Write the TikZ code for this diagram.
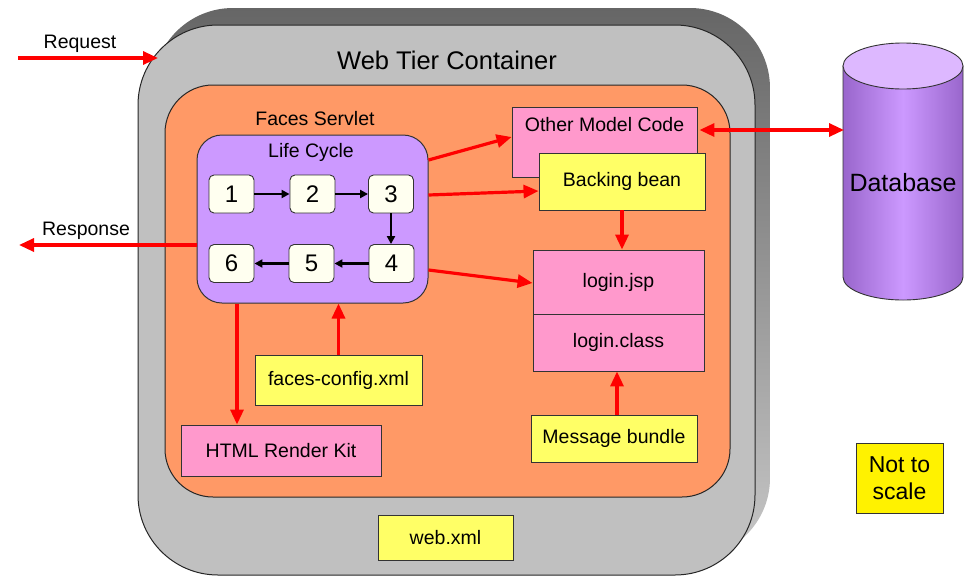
\documentclass[tikz,border=0pt]{standalone}
\usepackage{fontspec}
\setmainfont{Liberation Sans}
\usetikzlibrary{arrows.meta,calc}
\definecolor{cgrey}{HTML}{C0C0C0}
\definecolor{corange}{HTML}{FF9966}
\definecolor{cpurple}{HTML}{CC99FF}
\definecolor{cdpurple}{HTML}{9966CC}
\definecolor{clpurple}{HTML}{DDB8FF}
\definecolor{cpink}{HTML}{FF99CC}
\definecolor{cyellow}{HTML}{FFFF66}
\definecolor{ccream}{HTML}{FFFFF0}
\definecolor{cred}{HTML}{FF0000}
\definecolor{cline}{HTML}{333333}
\begin{document}
\begin{tikzpicture}[x=1pt,y=-1pt,
  txt/.style={font=\fontsize{19.5}{23}\selectfont, inner sep=0pt},
  box/.style={draw=cline, line width=0.9pt, inner sep=0pt, font=\fontsize{19.5}{23}\selectfont},
  pinkbox/.style={box, fill=cpink},
  yellowbox/.style={box, fill=cyellow},
  stepbox/.style={draw=cline, line width=0.9pt, fill=ccream, rounded corners=5pt, minimum width=45pt, minimum height=38pt, inner sep=0pt, font=\fontsize{24}{28}\selectfont},
  redarrow/.style={draw=cred, line width=3.2pt, -{Triangle[length=15pt,width=13pt]}},
  redboth/.style={draw=cred, line width=3.2pt, {Triangle[length=15pt,width=13pt]}-{Triangle[length=15pt,width=13pt]}},
  blackarrow/.style={draw=black, line width=2.6pt, -{Triangle[length=8pt,width=8pt]}}
]
\useasboundingbox (0,0) rectangle (974,579);

% shadow / extrusion
\path[shade, top color=black!60, bottom color=black!22, rounded corners=80pt] (153,8) rectangle (770,558);
% web tier container
\node[draw=black!85, line width=1pt, fill=cgrey, rounded corners=80pt, minimum width=617pt, minimum height=550pt, inner sep=0pt] (wtc) at (446.5,300) {};
\node[font=\fontsize{25.5}{30}\selectfont, inner sep=0pt] (wtctitle) at (447,60) {Web Tier Container};
% faces servlet area
\node[draw=black!85, line width=1pt, fill=corange, rounded corners=48pt, minimum width=565pt, minimum height=412pt, inner sep=0pt] (fs) at (447.5,291) {};
\node[txt] (fstitle) at (315,119) {Faces Servlet};
% life cycle
\node[draw=cline, line width=1pt, fill=cpurple, rounded corners=25pt, minimum width=231pt, minimum height=168pt, inner sep=0pt] (lc) at (312.5,219) {};
\node[txt] (lctitle) at (311,152) {Life Cycle};
\node[stepbox] (b1) at (231.5,194) {1};
\node[stepbox] (b2) at (312.5,194) {2};
\node[stepbox] (b3) at (391,194) {3};
\node[stepbox] (b4) at (391.5,263.5) {4};
\node[stepbox] (b5) at (311.5,263.5) {5};
\node[stepbox] (b6) at (231.5,263.5) {6};
\draw[blackarrow] (b1) -- (b2);
\draw[blackarrow] (b2) -- (b3);
\draw[blackarrow] (b3.south) -- (b3.south |- b4.north);
\draw[blackarrow] (b4) -- (b5);
\draw[blackarrow] (b5) -- (b6);

% model boxes
\node[pinkbox, minimum width=185pt, minimum height=70pt, text height=20pt, text depth=42pt, inner ysep=4pt] (omc) at (604.5,142) {Other Model Code};
\node[yellowbox, minimum width=166pt, minimum height=57pt] (bb) at (622,181.5) {Backing bean};
\node[pinkbox, minimum width=171pt, minimum height=64pt] (jsp) at (618.5,282) {login.jsp};
\node[pinkbox, minimum width=171pt, minimum height=57pt] (cls) at (618.5,342.5) {login.class};
\node[yellowbox, minimum width=167pt, minimum height=50pt] (fc) at (338.5,380) {faces-config.xml};
\node[pinkbox, minimum width=200pt, minimum height=51pt] (hrk) at (281,450.5) {HTML Render Kit};
\node[yellowbox, minimum width=166pt, minimum height=47pt] (mb) at (614,438.5) {Message bundle};
\node[yellowbox, minimum width=135pt, minimum height=45pt] (web) at (445.5,537.5) {web.xml};
\node[draw=cline, line width=0.9pt, fill=yellow, inner sep=0pt, minimum width=87pt, minimum height=70pt, align=center, font=\fontsize{23}{27}\selectfont] (nts) at (899.5,478) {Not to\\scale};

% database cylinder
\shade[left color=cdpurple, right color=cdpurple, middle color=cpurple, draw=cline, line width=0.9pt]
  (843,66) -- (843,277) arc[start angle=180, end angle=360, x radius=60pt, y radius=23pt] -- (963,66) -- cycle;
\draw[fill=clpurple, draw=cline, line width=0.9pt] (903,66) ellipse[x radius=60pt, y radius=23pt];
\node[font=\fontsize{25}{30}\selectfont, inner sep=0pt] (db) at (903,183) {Database};
\coordinate (dbl) at (844,130);

% red connectors
\draw[redboth] ([xshift=2pt,yshift=12pt]omc.east) -- (dbl);
\draw[redarrow] ([yshift=59pt]lc.east) -- ([yshift=5pt]omc.west);
\draw[redarrow] ([yshift=24pt]lc.east) -- ([yshift=-9.5pt]bb.west);
\draw[redarrow] ([yshift=-51pt]lc.east) -- ([yshift=-1pt]jsp.west);
\draw[redarrow] (bb.south) -- (bb.south |- jsp.north);
\draw[redarrow] ([xshift=3pt]mb.north) -- ([xshift=3pt]mb.north |- cls.south);
\draw[redarrow] ([xshift=-75.5pt]lc.south) -- ([xshift=-75.5pt]lc.south |- hrk.north);
\draw[redarrow] (fc.north) -- (fc.north |- lc.south);

\coordinate (reqs) at (18,58);
\coordinate (reqe) at (158,58);
\draw[redarrow] (reqs) -- (reqe);
\node[txt] (reqlabel) at (80,44) {Request};
\coordinate (resp) at (19,245);
\draw[redarrow] ([yshift=-26pt]lc.west) -- (resp);
\node[txt] (resplabel) at (86,231) {Response};
\end{tikzpicture}
\end{document}
